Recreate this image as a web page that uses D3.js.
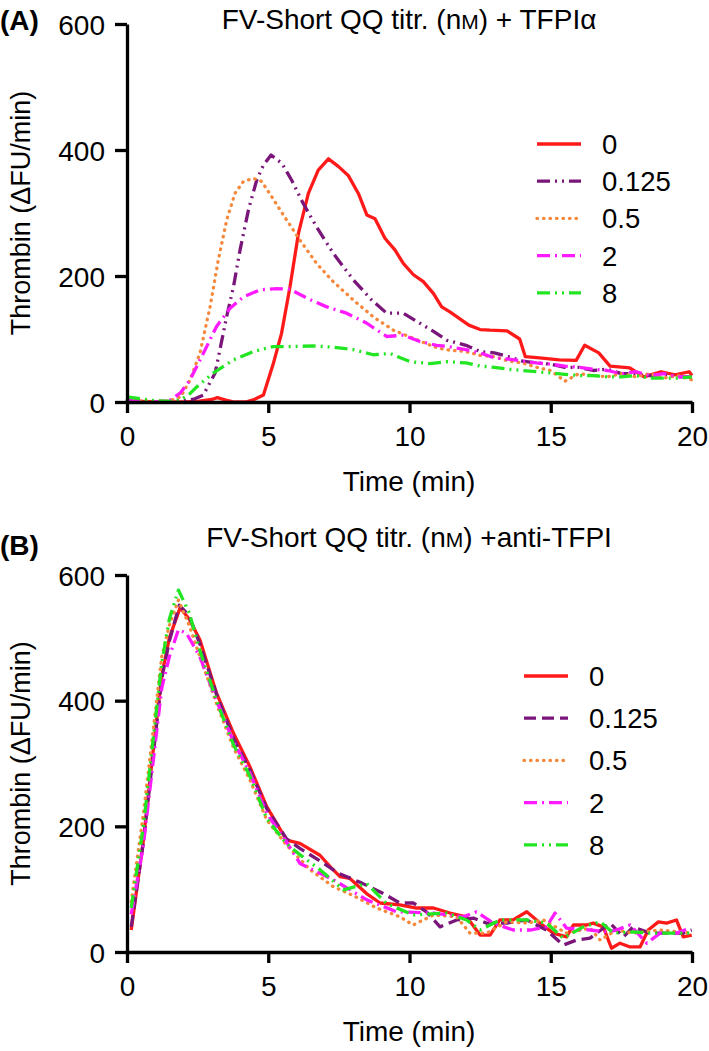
<!DOCTYPE html>
<html><head><meta charset="utf-8">
<script src="https://cdn.jsdelivr.net/npm/d3@7"></script>
<style>
body{margin:0;background:#fff;}
svg text{font-family:"Liberation Sans",Arial,Helvetica,sans-serif;fill:#000;}
</style></head>
<body><svg id="c" width="709" height="1051"></svg>
<script>
// ---------- data ----------
const seriesNames = ["0", "0.125", "0.5", "2", "8"];
const seriesColors = ["#ff1a1a", "#7a167a", "#f5883a", "#ff1aff", "#22e622"];
const xTicks = [0, 5, 10, 15, 20];
const yTicks = [0, 200, 400, 600];

// Panel A: FV-Short QQ titration + TFPIα  [time (min), thrombin (ΔFU/min)]
const a_0 = [[0,2],[0.5,1],[1,0],[1.5,0],[2,0],[2.5,1],[3,4],[3.2,7],[3.5,3],[3.8,0],[4.2,0],[4.5,4],[4.83,11],[5.18,61],[5.47,109],[5.77,183],[6.07,268],[6.42,331],[6.77,368],[7.13,386],[7.48,374],[7.84,359],[8.19,331],[8.49,297],[8.78,291],[9.13,260],[9.49,241],[9.78,220],[10.14,202],[10.49,191],[10.85,172],[11.14,151],[11.43,143],[12.1,122],[12.5,115],[12.85,114],[13.45,113],[13.9,100],[14.1,72],[14.6,70],[15.3,67],[15.9,66],[16.2,90],[16.7,78],[17.1,57],[17.8,54],[18.3,40],[18.9,48],[19.4,43],[19.9,48],[20,42]];
const a_0125 = [[0,3],[0.5,2],[1,1],[1.5,1],[2,2],[2.4,5],[2.7,11],[3.12,46],[3.53,136],[3.77,183],[4.0,241],[4.3,305],[4.59,352],[4.83,376],[5.1,392],[5.48,379],[5.83,352],[6.24,315],[6.71,278],[7.3,236],[8.01,194],[8.66,162],[9.19,141],[9.5,141],[9.78,141],[10.37,125],[10.85,112],[11.32,98],[12,90],[12.5,80],[13,78],[13.5,72],[14,65],[14.5,62],[15,60],[15.5,55],[16,55],[16.5,50],[17,52],[17.5,45],[18,45],[18.5,42],[19,44],[19.5,40],[20,40]];
const a_05 = [[0,3],[0.5,2],[1,1],[1.5,2],[1.9,8],[2.23,35],[2.58,77],[2.94,151],[3.23,225],[3.53,289],[3.82,331],[4.12,350],[4.47,355],[4.77,350],[5.12,326],[5.65,289],[6.12,257],[6.71,220],[7.3,191],[8.01,162],[8.72,135],[9.43,114],[10.14,101],[10.85,88],[11.26,83],[12,80],[12.5,74],[13,72],[13.5,65],[14,62],[14.5,55],[15,50],[15.5,33],[16,45],[16.5,42],[17,40],[17.5,45],[18,40],[18.5,45],[19,38],[19.5,42],[20,35]];
const a_2 = [[0,2],[0.5,1],[1,0],[1.5,2],[1.88,14],[2.23,35],[2.7,77],[3.17,120],[3.65,149],[4.12,167],[4.71,178],[5.3,180],[5.77,179],[6.36,165],[7.07,151],[7.77,141],[8.49,125],[9.19,104],[9.78,106],[10.37,96],[10.96,90],[11.37,88],[12,83],[12.5,78],[13,70],[13.5,68],[14,65],[14.5,62],[15,60],[15.5,57],[16,55],[16.5,52],[17,50],[17.5,45],[18,48],[18.5,42],[19,45],[19.5,40],[20,40]];
const a_8 = [[0,8],[0.5,5],[1,2],[1.5,1],[1.88,3],[2.2,12],[2.47,24],[3.05,46],[3.77,67],[4.47,80],[5.18,88],[5.89,88],[6.6,89],[7.3,87],[8.01,83],[8.72,75],[9.31,77],[10.02,64],[10.73,61],[11.32,64],[12,62],[12.5,57],[13,55],[13.5,52],[14,50],[14.5,48],[15,46],[15.5,44],[16,42],[16.5,42],[17,40],[17.5,40],[18,42],[18.5,38],[19,38],[19.5,38],[20,40]];

// Panel B: FV-Short QQ titration + anti-TFPI
const b_0 = [[0.15,35],[0.58,178],[0.9,310],[1.23,440],[1.5,500],[1.88,548],[2.2,530],[2.58,497],[3.17,412],[3.77,348],[4.35,295],[4.95,231],[5.65,178],[6.12,173],[6.83,154],[7.19,136],[7.54,120],[7.89,117],[8.48,93],[8.96,78],[9.66,75],[10.25,70],[10.85,70],[11.43,62],[12.02,56],[12.5,27],[12.85,27],[13.2,51],[13.67,51],[14.15,64],[14.62,46],[15.09,30],[15.56,24],[15.8,43],[16.27,43],[16.5,46],[16.86,40],[17.15,6],[17.45,14],[17.81,8],[18.16,8],[18.45,35],[18.81,48],[19.1,46],[19.45,51],[19.69,24],[19.99,27]];
const b_0125 = [[0.15,40],[0.58,175],[1.23,435],[1.5,495],[1.85,552],[2.2,535],[2.58,490],[3.17,410],[3.77,340],[4.35,290],[4.95,228],[5.65,180],[6.12,165],[6.83,145],[7.5,125],[8.3,110],[9.07,93],[9.66,78],[10.13,78],[10.6,64],[11.08,40],[11.67,51],[12.26,54],[12.73,46],[13.44,46],[14.15,51],[14.85,35],[15.44,11],[15.91,19],[16.39,22],[17.1,46],[17.57,24],[17.92,40],[18.51,30],[19.1,30],[19.69,30],[19.99,35]];
const b_05 = [[0.15,80],[0.58,220],[1.23,470],[1.5,520],[1.82,560],[2.2,520],[2.58,470],[3.17,395],[3.77,325],[4.35,274],[4.95,210],[5.65,170],[6.48,131],[7.3,104],[8.0,90],[8.84,70],[9.66,56],[10.13,43],[10.85,59],[11.67,56],[12.14,30],[12.73,30],[13.44,48],[14.15,46],[14.74,51],[15.56,30],[16.39,38],[16.75,19],[17.33,35],[17.92,30],[18.87,35],[19.99,30]];
const b_2 = [[0.15,60],[0.58,170],[1.23,420],[1.5,470],[1.82,513],[2.11,507],[2.58,470],[3.17,400],[3.77,335],[4.35,285],[4.95,220],[5.65,175],[6.12,141],[7.3,115],[8.49,83],[9.54,64],[10.85,62],[11.9,56],[12.37,64],[12.96,46],[13.67,35],[14.27,35],[14.85,40],[15.15,62],[15.56,38],[16.39,35],[17,32],[17.33,35],[17.81,43],[18.4,14],[18.87,30],[19.45,30],[19.93,38]];
const b_8 = [[0.15,70],[0.58,200],[1.23,460],[1.5,530],[1.82,576],[2.2,540],[2.58,480],[3.17,400],[3.77,330],[4.35,280],[4.95,212],[5.65,172],[6.12,155],[6.83,131],[7.66,99],[8.49,109],[9.19,77],[10.13,59],[11.32,62],[12.02,51],[12.5,35],[13.2,51],[14.15,51],[14.85,46],[15.44,22],[16.15,40],[16.75,48],[17.22,30],[17.92,32],[18.51,30],[19.1,30],[19.99,30]];

// ---------- drawing ----------
const svg = d3.select("#c");
const FS = 28;

const panels = [
  { tag: "(A)", titleMain: "FV-Short QQ titr. (n", titleEnd: ") + TFPIα", top: 24, bottom: 402, titleY: 29, tagY: 30,
    data: [a_0, a_0125, a_05, a_2, a_8],
    dashes: [null, "13,5,2,5,2,5", "dot", "13,5,2,5", "13,5,2,5,2,5"],
    legX: 537, legY: 144, legDy: 37.2 },
  { tag: "(B)", titleMain: "FV-Short QQ titr. (n", titleEnd: ") +anti-TFPI", top: 575, bottom: 952, titleY: 547, tagY: 555,
    data: [b_0, b_0125, b_05, b_2, b_8],
    dashes: [null, "12,6", "dot", "13,5,2,5", "13,5,2,5,2,5"],
    legX: 524, legY: 676, legDy: 42.2 }
];

function styleStroke(sel, dash) {
  if (dash === "dot") sel.attr("stroke-linecap", "round").attr("stroke-dasharray", "0.5,6");
  else sel.attr("stroke-linecap", "butt").attr("stroke-dasharray", dash);
}

panels.forEach(p => {
  const x = d3.scaleLinear().domain([0, 20]).range([127, 692]);
  const y = d3.scaleLinear().domain([0, 600]).range([p.bottom, p.top]);
  const g = svg.append("g");

  // data lines
  const line = d3.line().x(d => x(d[0])).y(d => y(d[1]));
  p.data.forEach((ser, i) => {
    const path = g.append("path").datum(ser).attr("d", line)
      .attr("fill", "none").attr("stroke", seriesColors[i]).attr("stroke-width", 3.3)
      .attr("stroke-linejoin", "round");
    styleStroke(path, p.dashes[i]);
  });

  // axes
  const xa = g.append("g").attr("transform", `translate(0,${p.bottom})`)
    .call(d3.axisBottom(x).tickValues(xTicks).tickSize(11).tickPadding(6).tickSizeOuter(0));
  const ya = g.append("g").attr("transform", `translate(127,0)`)
    .call(d3.axisLeft(y).tickValues(yTicks).tickSize(12).tickPadding(10).tickSizeOuter(0));
  [xa, ya].forEach(a => {
    a.select(".domain").attr("stroke", "#000").attr("stroke-width", 3.3);
    a.selectAll(".tick line").attr("stroke", "#000").attr("stroke-width", 3.3);
    a.selectAll("text").attr("font-size", FS).attr("fill", "#000")
      .style("font-family", '"Liberation Sans",Arial,sans-serif');
  });
  xa.selectAll("text").attr("dy", "0.95em");
  ya.selectAll("text").attr("dy", "0.36em");

  // axis titles
  g.append("text").attr("x", 409).attr("y", p.bottom + 89).attr("text-anchor", "middle")
    .attr("font-size", FS).text("Time (min)");
  g.append("text").attr("transform", `translate(30,${(p.top + p.bottom) / 2}) rotate(-90)`)
    .attr("text-anchor", "middle").attr("font-size", 27).text("Thrombin (ΔFU/min)");

  // panel tag + title
  g.append("text").attr("x", 0).attr("y", p.tagY).attr("font-size", FS).attr("font-weight", "bold").text(p.tag);
  const t = g.append("text").attr("x", 409).attr("y", p.titleY).attr("text-anchor", "middle").attr("font-size", FS);
  t.append("tspan").text(p.titleMain);
  t.append("tspan").attr("font-size", FS * 0.75).text("M");
  t.append("tspan").text(p.titleEnd);

  // legend
  seriesNames.forEach((name, i) => {
    const yy = p.legY + i * p.legDy;
    const ln = g.append("line").attr("x1", p.legX).attr("x2", p.legX + 44).attr("y1", yy).attr("y2", yy)
      .attr("stroke", seriesColors[i]).attr("stroke-width", 3.3);
    styleStroke(ln, p.dashes[i]);
    g.append("text").attr("x", p.legX + 65).attr("y", yy + 10).attr("font-size", 27.5).text(name);
  });
});
</script></body></html>
